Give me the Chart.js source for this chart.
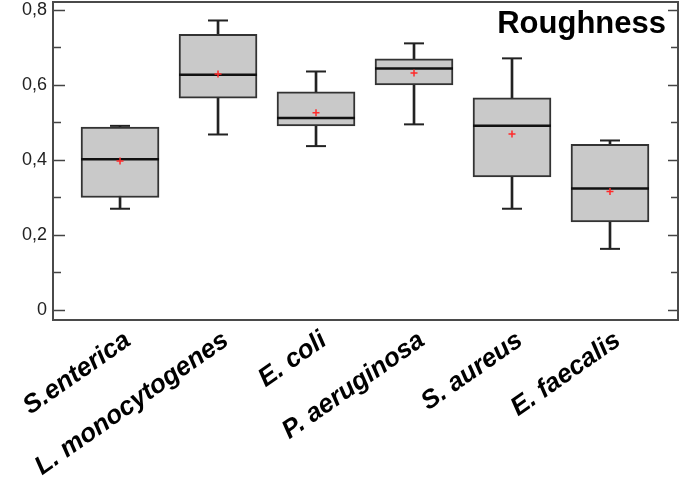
<!DOCTYPE html>
<html>
<head>
<meta charset="utf-8">
<script src="https://cdn.jsdelivr.net/npm/chart.js@4/dist/chart.umd.min.js"></script>
<style>
  html, body { margin: 0; padding: 0; background: #fff; }
  #wrap { width: 683px; height: 484px; position: relative; }
</style>
</head>
<body>
<div id="wrap"><canvas id="chart"></canvas></div>
<script>
// Box plot values
const species = ['S.enterica', 'L. monocytogenes', 'E. coli', 'P. aeruginosa', 'S. aureus', 'E. faecalis'];
const whiskerLow  = [0.270, 0.468, 0.437, 0.495, 0.270, 0.163];
const q1          = [0.300, 0.565, 0.491, 0.600, 0.355, 0.235];
const median      = [0.402, 0.627, 0.512, 0.644, 0.491, 0.324];
const q3          = [0.488, 0.735, 0.582, 0.670, 0.566, 0.442];
const whiskerHigh = [0.491, 0.772, 0.636, 0.711, 0.671, 0.452];
const mean        = [0.397, 0.629, 0.526, 0.632, 0.469, 0.316];

// Y axis ticks
const yMajorTicks = [0, 0.2, 0.4, 0.6, 0.8];
const yMinorStep = 0.05;

const FONT = "'Liberation Sans', Arial, sans-serif";

const idx = species.map((_, i) => i);

// frame, inward tick marks and the title inside the plot
const framePlugin = {
    id: 'frame',
    afterDraw(chart) {
        const { ctx, chartArea: a, scales: { y } } = chart;
        ctx.save();
        ctx.strokeStyle = '#444';
        ctx.lineWidth = 1.5;
        y.ticks.forEach(t => {
            const py = Math.round(y.getPixelForValue(t.value)) + 0.5;
            const major = yMajorTicks.some(m => Math.abs(m - t.value) < 1e-6);
            ctx.beginPath();
            ctx.moveTo(a.left, py);
            ctx.lineTo(a.left + (major ? 12 : 8), py);
            ctx.moveTo(a.right, py);
            ctx.lineTo(a.right - (major ? 10 : 7), py);
            ctx.stroke();
        });
        ctx.lineWidth = 2;
        ctx.strokeStyle = '#4a4a4a';
        ctx.strokeRect(a.left, a.top, a.right - a.left, a.bottom - a.top);

        ctx.fillStyle = '#000';
        ctx.font = 'bold 31px ' + FONT;
        ctx.textAlign = 'right';
        ctx.textBaseline = 'alphabetic';
        ctx.fillText('Roughness', a.right - 12, a.top + 31);
        ctx.restore();
    }
};

const noPad = s => {
    s.paddingTop = 0; s.paddingBottom = 0;
    s.paddingLeft = 0; s.paddingRight = 0;
};

new Chart(document.getElementById('chart'), {
    type: 'bar',
    data: {
        datasets: [
            {
                type: 'scatter',
                label: 'mean',
                data: idx.map(i => ({ x: i, y: mean[i] })),
                pointStyle: 'cross',
                radius: 3.5,
                borderColor: '#ff2a2a',
                borderWidth: 1.5
            },
            {
                type: 'scatter',
                label: 'median',
                data: idx.map(i => ({ x: i, y: median[i] })),
                pointStyle: 'line',
                radius: 39,
                borderColor: '#111',
                borderWidth: 2.5
            },
            {
                type: 'scatter',
                label: 'caps',
                data: idx.map(i => ({ x: i, y: whiskerHigh[i] }))
                    .concat(idx.map(i => ({ x: i, y: whiskerLow[i] }))),
                pointStyle: 'line',
                radius: 10,
                borderColor: '#222',
                borderWidth: 2
            },
            {
                label: 'box',
                data: idx.map(i => ({ x: i, y: [q1[i], q3[i]] })),
                backgroundColor: '#c9c9c9',
                borderColor: '#333',
                borderWidth: 2,
                borderSkipped: false,
                barThickness: 78,
                grouped: false
            },
            {
                label: 'whisker',
                data: idx.map(i => ({ x: i, y: [whiskerLow[i], whiskerHigh[i]] })),
                backgroundColor: '#222',
                borderWidth: 0,
                barThickness: 2,
                grouped: false
            }
        ]
    },
    options: {
        responsive: true,
        maintainAspectRatio: false,
        animation: false,
        layout: { autoPadding: false, padding: { top: 2, right: 5, left: 0, bottom: 0 } },
        plugins: {
            legend: { display: false },
            tooltip: { enabled: false }
        },
        scales: {
            x: {
                type: 'linear',
                offset: false,
                min: -0.684,
                max: 5.694,
                afterBuildTicks: s => { s.ticks = idx.map(i => ({ value: i })); },
                afterFit: s => { s.height = 164; noPad(s); },
                grid: { display: false, drawTicks: false, offset: false },
                border: { display: false },
                ticks: {
                    minRotation: 35,
                    maxRotation: 35,
                    padding: 5,
                    labelOffset: 8,
                    color: '#000',
                    font: { family: FONT, size: 26, weight: 'bold', style: 'italic' },
                    callback: v => species[v]
                }
            },
            y: {
                type: 'linear',
                min: -0.0267,
                max: 0.8213,
                afterBuildTicks: s => {
                    const n = Math.round(0.8 / yMinorStep);
                    s.ticks = Array.from({ length: n + 1 }, (_, k) => ({ value: +(k * yMinorStep).toFixed(2) }));
                },
                afterFit: s => { s.width = 53; noPad(s); },
                grid: { display: false, drawTicks: false },
                border: { display: false },
                ticks: {
                    padding: 6,
                    color: '#222',
                    font: { family: FONT, size: 18 },
                    callback: v => {
                        const m = yMajorTicks.find(t => Math.abs(t - v) < 1e-6);
                        if (m === undefined) return '';
                        return m === 0 ? '0' : m.toFixed(1).replace('.', ',');
                    }
                }
            }
        }
    },
    plugins: [framePlugin]
});
</script>
</body>
</html>
